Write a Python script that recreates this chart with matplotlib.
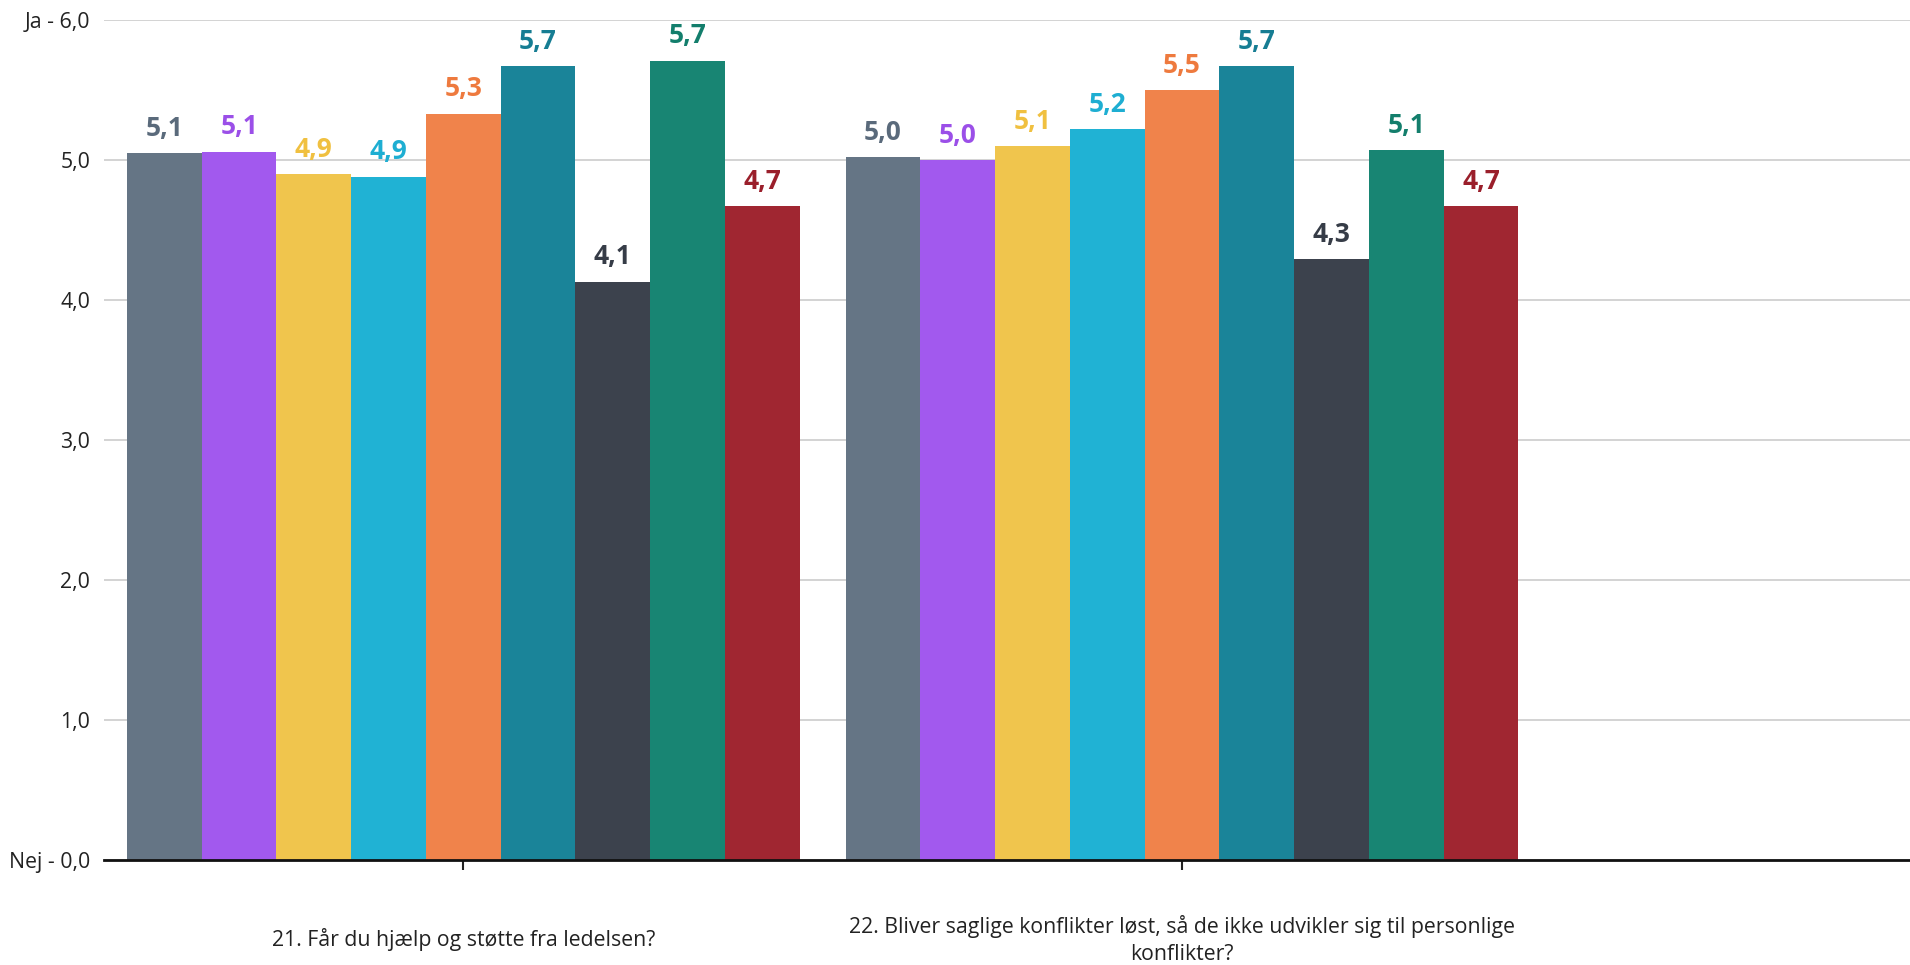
import matplotlib
matplotlib.use("Agg")
import matplotlib.pyplot as plt
import numpy as np

categories = ["21. Får du hjælp og støtte fra ledelsen?",
              "22. Bliver saglige konflikter løst, så de ikke udvikler sig til personlige\nkonflikter?"]
series_colors = ["#657585", "#A259EE", "#F0C54D", "#20B2D4", "#F0834B",
                 "#1A8499", "#3C424D", "#188573", "#A02631"]
label_colors = ["#5A6A7B", "#9B4FE8", "#F0C040", "#1EAED2", "#EE7A3E",
                "#167D93", "#363C47", "#137E6C", "#9A1F2B"]
values = [
    [5.05, 5.06, 4.90, 4.88, 5.33, 5.67, 4.13, 5.71, 4.67],
    [5.02, 5.00, 5.10, 5.22, 5.50, 5.67, 4.29, 5.07, 4.67],
]
value_labels = [
    ["5,1", "5,1", "4,9", "4,9", "5,3", "5,7", "4,1", "5,7", "4,7"],
    ["5,0", "5,0", "5,1", "5,2", "5,5", "5,7", "4,3", "5,1", "4,7"],
]
ytick_vals = [0, 1, 2, 3, 4, 5, 6]
ytick_labels = ["Nej - 0,0", "1,0", "2,0", "3,0", "4,0", "5,0", "Ja - 6,0"]

plt.rcParams['font.family'] = ['Open Sans', 'DejaVu Sans']

fig = plt.figure(figsize=(19.10, 9.65), dpi=100)
ax = fig.add_axes([104 / 1910, 1 - 860 / 965, 1 - 104 / 1910, (860 - 20) / 965])

n = len(series_colors)
bw = 0.104
for g in range(len(categories)):
    for i in range(n):
        x = g + (i - (n - 1) / 2) * bw
        ax.bar(x, values[g][i], width=bw, color=series_colors[i], zorder=2, linewidth=0)
        ax.annotate(value_labels[g][i], (x, values[g][i]), xytext=(0, 12.5),
                    textcoords="offset points", ha="center", va="baseline",
                    fontsize=19, fontweight="bold", color=label_colors[i], zorder=3)

ax.set_xlim(-0.5, 2.013)
ax.set_ylim(0, 6)
ax.set_yticks(ytick_vals)
ax.set_yticklabels(ytick_labels, fontsize=15.3, color="#222222")
ax.tick_params(axis="y", length=0, pad=10)
ax.yaxis.grid(True, color="#cccccc", linewidth=1.2, zorder=0)
ax.set_axisbelow(True)

ax.set_xticks(range(len(categories)))
ax.set_xticklabels([""] * len(categories))
ax.tick_params(axis="x", length=7, width=1.5, color="#222222", direction="out")
for g, lab in enumerate(categories):
    ax.text(g, -0.57, lab, ha="center", va="center", fontsize=15.3,
            color="#222222", linespacing=1.35)

for s in ["top", "right", "left"]:
    ax.spines[s].set_visible(False)
ax.spines["bottom"].set_linewidth(2)
ax.spines["bottom"].set_color("#111111")
ax.spines["bottom"].set_zorder(4)

fig.savefig("out.png", dpi=100)
